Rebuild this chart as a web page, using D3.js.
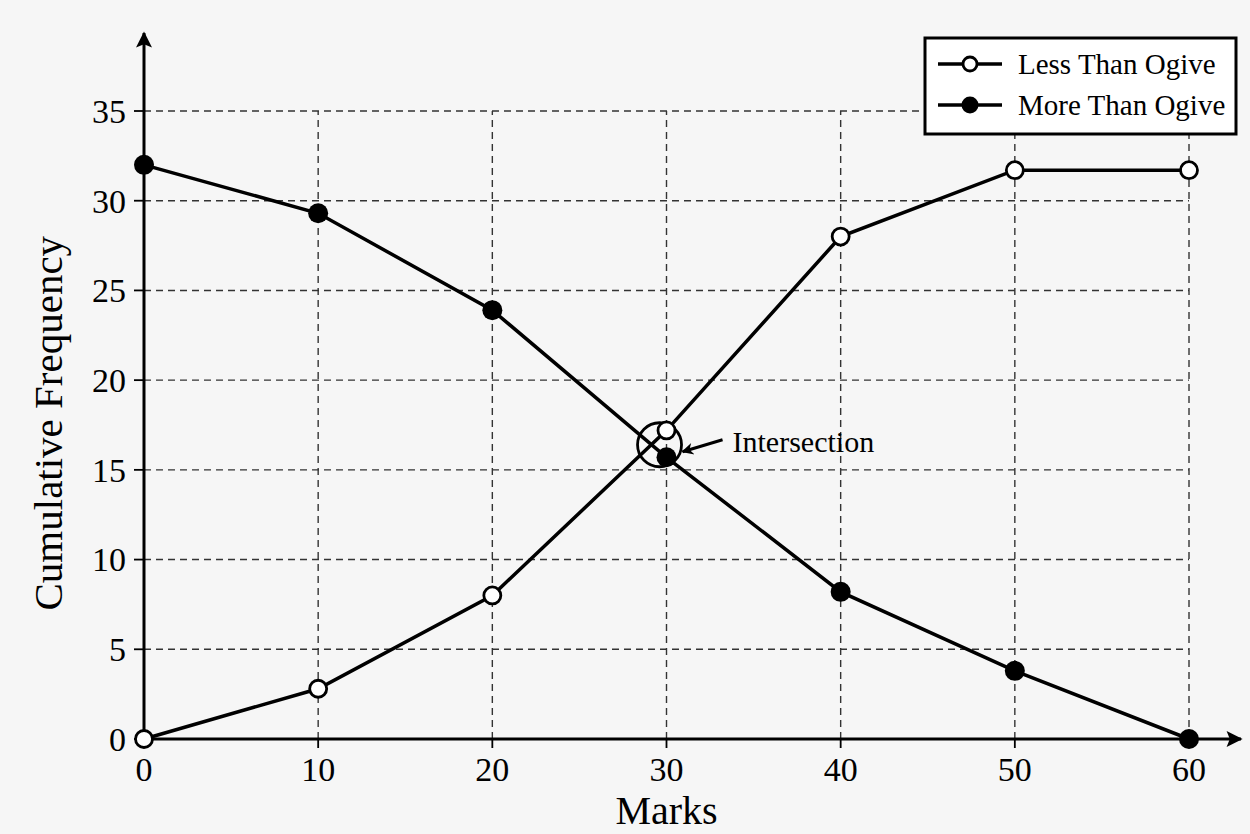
<!DOCTYPE html>
<html>
<head>
<meta charset="utf-8">
<script src="https://cdn.jsdelivr.net/npm/d3@7"></script>
<style>
  body { margin: 0; background: #f6f6f6; }
  svg { display: block; }
  text { font-family: "Liberation Serif", "DejaVu Serif", serif; fill: #000; }
</style>
</head>
<body>
<svg id="chart" width="1250" height="834"></svg>
<script>
// marks (class boundaries)
var marks = [0, 10, 20, 30, 40, 50, 60];
// cumulative frequencies
var lessThan = [0, 2.8, 8, 17.2, 28, 31.7, 31.7];
var moreThan = [32, 29.3, 23.9, 15.7, 8.2, 3.8, 0];
var xTicks = [0, 10, 20, 30, 40, 50, 60];
var yTicks = [0, 5, 10, 15, 20, 25, 30, 35];
var seriesNames = ["Less Than Ogive", "More Than Ogive"];
// intersection annotation (data coords)
var intersect = { x: 29.6, y: 16.4, label: "Intersection" };

var svg = d3.select("#chart");

var x = d3.scaleLinear().domain([0, 60]).range([144, 1189]);
var y = d3.scaleLinear().domain([0, 35]).range([739, 111]);

svg.append("rect").attr("width", 1250).attr("height", 834).attr("fill", "#f6f6f6");

// dashed grid
var grid = svg.append("g")
    .attr("stroke", "#333")
    .attr("stroke-width", 1.4)
    .attr("stroke-dasharray", "7,5");

grid.selectAll("line.h")
  .data(yTicks.filter(d => d > 0))
  .join("line")
    .attr("x1", x(0)).attr("x2", x(60))
    .attr("y1", d => y(d)).attr("y2", d => y(d));

grid.selectAll("line.v")
  .data(xTicks.filter(d => d > 0))
  .join("line")
    .attr("x1", d => x(d)).attr("x2", d => x(d))
    .attr("y1", y(0)).attr("y2", y(35));

// axes with arrow heads
var defs = svg.append("defs");
defs.append("marker")
    .attr("id", "arrow")
    .attr("viewBox", "0 0 10 10")
    .attr("refX", 9).attr("refY", 5)
    .attr("markerWidth", 18).attr("markerHeight", 16)
    .attr("markerUnits", "userSpaceOnUse")
    .attr("orient", "auto")
  .append("path")
    .attr("d", "M0,0 L10,5 L0,10 L2,5 Z")
    .attr("fill", "#000");

defs.append("marker")
    .attr("id", "arrowSmall")
    .attr("viewBox", "0 0 10 10")
    .attr("refX", 9).attr("refY", 5)
    .attr("markerWidth", 15).attr("markerHeight", 12)
    .attr("markerUnits", "userSpaceOnUse")
    .attr("orient", "auto")
  .append("path")
    .attr("d", "M0,0 L10,5 L0,10 L3,5 Z")
    .attr("fill", "#000");

svg.append("line")
    .attr("x1", x(0)).attr("y1", y(0))
    .attr("x2", 1241).attr("y2", y(0))
    .attr("stroke", "#000").attr("stroke-width", 3)
    .attr("marker-end", "url(#arrow)");

svg.append("line")
    .attr("x1", x(0)).attr("y1", y(0))
    .attr("x2", x(0)).attr("y2", 33)
    .attr("stroke", "#000").attr("stroke-width", 3)
    .attr("marker-end", "url(#arrow)");

// ticks
svg.append("g").selectAll("line")
  .data(xTicks)
  .join("line")
    .attr("x1", d => x(d)).attr("x2", d => x(d))
    .attr("y1", y(0)).attr("y2", y(0) + 9)
    .attr("stroke", "#000").attr("stroke-width", 1.8);

svg.append("g").selectAll("line")
  .data(yTicks)
  .join("line")
    .attr("x1", x(0) - 10).attr("x2", x(0))
    .attr("y1", d => y(d)).attr("y2", d => y(d))
    .attr("stroke", "#000").attr("stroke-width", 1.8);

svg.append("g").selectAll("text")
  .data(xTicks)
  .join("text")
    .attr("x", d => x(d))
    .attr("y", 781)
    .attr("text-anchor", "middle")
    .attr("font-size", 34)
    .text(d => d);

svg.append("g").selectAll("text")
  .data(yTicks)
  .join("text")
    .attr("x", 126)
    .attr("y", d => y(d))
    .attr("dy", "0.35em")
    .attr("text-anchor", "end")
    .attr("font-size", 34)
    .text(d => d);

svg.append("text")
    .attr("x", x(30))
    .attr("y", 824)
    .attr("text-anchor", "middle")
    .attr("font-size", 40)
    .text("Marks");

svg.append("text")
    .attr("transform", "translate(62," + y(17.6) + ") rotate(-90)")
    .attr("text-anchor", "middle")
    .attr("font-size", 41)
    .text("Cumulative Frequency");

// lines
var line = d3.line()
    .x((d, i) => x(marks[i]))
    .y(d => y(d));

svg.append("path")
    .datum(lessThan)
    .attr("d", line)
    .attr("fill", "none")
    .attr("stroke", "#000")
    .attr("stroke-width", 3.5);

svg.append("path")
    .datum(moreThan)
    .attr("d", line)
    .attr("fill", "none")
    .attr("stroke", "#000")
    .attr("stroke-width", 3.5);

// intersection circle + arrow
svg.append("circle")
    .attr("cx", x(intersect.x))
    .attr("cy", y(intersect.y))
    .attr("r", 22)
    .attr("fill", "none")
    .attr("stroke", "#000")
    .attr("stroke-width", 2.8);

svg.append("g").selectAll("circle")
  .data(lessThan)
  .join("circle")
    .attr("cx", (d, i) => x(marks[i]))
    .attr("cy", d => y(d))
    .attr("r", 8.5)
    .attr("fill", "#fff")
    .attr("stroke", "#000")
    .attr("stroke-width", 2.8);

svg.append("g").selectAll("circle")
  .data(moreThan)
  .join("circle")
    .attr("cx", (d, i) => x(marks[i]))
    .attr("cy", d => y(d))
    .attr("r", 10)
    .attr("fill", "#000");

svg.append("line")
    .attr("x1", x(intersect.x) + 63).attr("y1", y(intersect.y) - 5)
    .attr("x2", x(intersect.x) + 23).attr("y2", y(intersect.y) + 7)
    .attr("stroke", "#000").attr("stroke-width", 3)
    .attr("marker-end", "url(#arrowSmall)");

svg.append("text")
    .attr("x", x(intersect.x) + 73)
    .attr("y", y(intersect.y) + 7)
    .attr("font-size", 30)
    .text(intersect.label);

// legend
var legend = svg.append("g").attr("transform", "translate(925,38)");
legend.append("rect")
    .attr("width", 311).attr("height", 96)
    .attr("fill", "#fff")
    .attr("stroke", "#000")
    .attr("stroke-width", 3);

var item = legend.selectAll("g")
  .data(seriesNames)
  .join("g")
    .attr("transform", (d, i) => "translate(0," + (26 + i * 41) + ")");

item.append("line")
    .attr("x1", 13).attr("x2", 77)
    .attr("stroke", "#000").attr("stroke-width", 3.5);

item.append("circle")
    .attr("cx", 45)
    .attr("r", (d, i) => i === 0 ? 7 : 8.5)
    .attr("fill", (d, i) => i === 0 ? "#fff" : "#000")
    .attr("stroke", "#000")
    .attr("stroke-width", (d, i) => i === 0 ? 2.8 : 0);

item.append("text")
    .attr("x", 93)
    .attr("dy", "0.33em")
    .attr("font-size", 29)
    .text(d => d);
</script>
</body>
</html>
